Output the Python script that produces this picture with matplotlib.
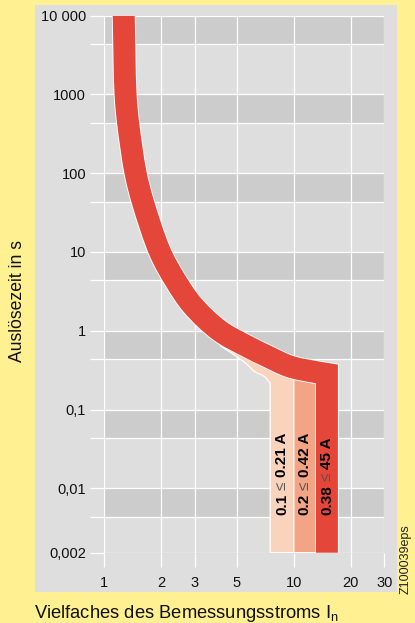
import numpy as np
import matplotlib
matplotlib.use("Agg")
import matplotlib.pyplot as plt
from matplotlib.path import Path
from matplotlib.patches import PathPatch, Rectangle
import matplotlib.transforms as mtransforms

plt.rcParams['font.family'] = ['Liberation Sans', 'DejaVu Sans']

# ---- data -------------------------------------------------------------
# centre line of the tripping band: multiple of rated current / seconds
curve_x = [1.266, 1.295, 1.336, 1.463, 1.598, 1.968, 2.366, 2.915, 4.06, 5.62, 7.18, 9.52, 12.94, 14.94]
curve_t = [10000, 1000, 434, 100, 43.2, 10, 4.4, 2.12, 1.0, 0.641, 0.479, 0.352, 0.30, 0.283]

# lower branch of the 0.1 ... 0.21 A range
peach_x = [4.1, 5.0, 5.62, 6.22, 7.0, 7.5]
peach_t = [0.64, 0.47, 0.38, 0.303, 0.262, 0.215]

# top-left corner of the 0.2 ... 0.42 A column
salmon_corner = (10.0, 0.249)

# left edges of the three instantaneous columns and lowest time
band_left = [7.5, 10.0, 13.0]
right_limit = 17.16
t_min = 0.002

band_labels = [("0.1", "0.21 A"), ("0.2", "0.42 A"), ("0.38", "45 A")]

x_ticks = [1, 2, 3, 5, 10, 20, 30]
x_ticklabels = ["1", "2", "3", "5", "10", "20", "30"]
y_ticks = [0.002, 0.01, 0.1, 1, 10, 100, 1000, 10000]
y_ticklabels = ["0,002", "0,01", "0,1", "1", "10", "100", "1000", "10 000"]

# ---- colours ----------------------------------------------------------
YELLOW = "#FFF091"
PANEL = "#DEDEDE"
BAND = "#CCCCCC"
RED = "#E4473A"
SALMON = "#F3A484"
PEACH = "#FAD3BC"

# ---- time axis: logarithmic, last step below 0.01 s stretched ----------
K = 1.17


def fwd(t):
    l = np.log10(np.maximum(np.asarray(t, dtype=float), 1e-300))
    return np.where(l >= -2, l, -2 + (l + 2) * K)


def inv(f):
    f = np.asarray(f, dtype=float)
    return np.where(f >= -2, 10.0 ** f, 10.0 ** (-2 + (f + 2) / K))


fig = plt.figure(figsize=(4.15, 6.23), dpi=100, facecolor=YELLOW)
fig.patches.append(Rectangle((35 / 415, 1 - 592 / 623), 362 / 415, 587 / 623,
                             transform=fig.transFigure, facecolor=PANEL,
                             edgecolor="none", zorder=-5))

ax = fig.add_axes([104.3 / 415, 1 - 552.7 / 623, 280 / 415, 537 / 623])
ax.set_zorder(2)
ax.set_facecolor(PANEL)
ax.set_xscale("log")
ax.set_yscale("function", functions=(fwd, inv))
ax.set_xlim(1, 30)
ax.set_ylim(t_min, 10000)
for s in ax.spines.values():
    s.set_visible(False)

# shaded stripes below each decade line
decades = [10000, 1000, 100, 10, 1, 0.1, 0.01]
minor = [float(inv(fwd(d) - 0.36)) for d in decades]
for d, m in zip(decades, minor):
    ax.axhspan(m, d, color=BAND, lw=0, zorder=0.2)

ax.set_xticks(x_ticks)
ax.set_xticklabels(x_ticklabels)
ax.xaxis.set_minor_locator(matplotlib.ticker.NullLocator())
ax.set_yticks(y_ticks)
ax.set_yticklabels(y_ticklabels)
ax.set_yticks(minor, minor=True)
ax.tick_params(axis="both", which="both", length=10, width=0.9, color="white",
               labelsize=10.5, labelcolor="#111111")
ax.tick_params(axis="y", pad=3)
ax.tick_params(axis="x", pad=6.5)
ax.grid(True, which="both", color="white", lw=0.9, zorder=0.5)
ax.set_axisbelow(True)

# ---- smooth curve through read points (centripetal Catmull-Rom) --------
SX, SY = 187.7, 78.77   # pixels per decade on x and y


def to_px(xs, ts):
    return np.column_stack([np.log10(xs) * SX, np.log10(ts) * SY])


def from_px(P):
    P = np.asarray(P)
    return list(zip(10 ** (P[:, 0] / SX), 10 ** (P[:, 1] / SY)))


def smooth_verts(xs, ts, alpha=0.5):
    P = to_px(xs, ts)
    Q = np.vstack([2 * P[0] - P[1], P, 2 * P[-1] - P[-2]])
    out = [P[0]]
    for i in range(len(P) - 1):
        p0, p1, p2, p3 = Q[i], Q[i + 1], Q[i + 2], Q[i + 3]
        a1 = np.hypot(*(p1 - p0)) ** alpha
        a2 = np.hypot(*(p2 - p1)) ** alpha
        a3 = np.hypot(*(p3 - p2)) ** alpha
        c1 = (a1 ** 2 * p2 - a2 ** 2 * p0 + (2 * a1 ** 2 + 3 * a1 * a2 + a2 ** 2) * p1) / (3 * a1 * (a1 + a2))
        c2 = (a3 ** 2 * p1 - a2 ** 2 * p3 + (2 * a3 ** 2 + 3 * a3 * a2 + a2 ** 2) * p2) / (3 * a3 * (a3 + a2))
        out += [c1, c2, p2]
    return from_px(out)


# ---- 0.1 ... 0.21 A column (under the main band) -----------------------
br = smooth_verts(peach_x, peach_t)
verts = list(br) + [(band_left[0], t_min), (curve_x[-2], t_min)]
codes = [Path.MOVETO] + [Path.CURVE4] * (len(br) - 1) + [Path.LINETO] * 2
back = [(x, t) for x, t in zip(curve_x[:-1], curve_t[:-1]) if x > peach_x[0] - 0.1][::-1]
verts += back + [br[0]]
codes += [Path.LINETO] * len(back) + [Path.CLOSEPOLY]
ax.add_patch(PathPatch(Path(verts, codes), facecolor=PEACH, edgecolor="white",
                       lw=0.9, zorder=2))

# ---- 0.2 ... 0.42 A column ---------------------------------------------
verts = [(band_left[1], t_min), salmon_corner, (curve_x[-2], curve_t[-2]),
         (curve_x[-1], curve_t[-1]), (curve_x[-1], t_min), (band_left[1], t_min)]
codes = [Path.MOVETO] + [Path.LINETO] * 4 + [Path.CLOSEPOLY]
ax.add_patch(PathPatch(Path(verts, codes), facecolor=SALMON, edgecolor="white",
                       lw=0.9, zorder=3))

# ---- main band 0.38 ... 45 A: thick stroke along the centre line -------
cv = smooth_verts(curve_x, curve_t)
verts = list(cv) + [(curve_x[-1], t_min)]
codes = [Path.MOVETO] + [Path.CURVE4] * (len(cv) - 1) + [Path.LINETO]
band_path = Path(verts, codes)
w_px = 22.0
ax.add_patch(PathPatch(band_path, fill=False, edgecolor="white", lw=(w_px + 1.8) * 0.72,
                       joinstyle="miter", capstyle="butt", zorder=4))
ax.add_patch(PathPatch(band_path, fill=False, edgecolor=RED, lw=w_px * 0.72,
                       joinstyle="miter", capstyle="butt", zorder=5))

# ---- vertical range labels inside the columns --------------------------
fig.canvas.draw()
renderer = fig.canvas.get_renderer()
trans = mtransforms.blended_transform_factory(ax.transData, ax.transAxes)
edges = band_left + [right_limit]
for i, (lo, hi) in enumerate(band_labels):
    xc = np.sqrt(edges[i] * edges[i + 1])
    y = 0.070
    for s, w, c in [(lo, "bold", "black"), ("\u2264", "normal", "#555555"), (hi, "bold", "black")]:
        t = ax.text(xc, y, s, transform=trans, rotation=90, ha="center", va="bottom",
                    fontsize=11, fontweight=w, color=c, zorder=6)
        bb = t.get_window_extent(renderer)
        y = ax.transAxes.inverted().transform((0, bb.y1 + 4))[1]

# ---- axis titles -------------------------------------------------------
fig.text(18 / 415, 1 - 301 / 623, "Auslösezeit in s", rotation=90,
         ha="center", va="center", fontsize=12.7, color="#111111")
fig.text(34 / 415, 1 - 613 / 623, r"Vielfaches des Bemessungsstroms I$\mathregular{_n}$",
         ha="left", va="center", fontsize=13.2, color="#111111")
fig.text(406 / 415, 1 - 559 / 623, "Z100039eps", rotation=90,
         ha="center", va="center", fontsize=9, color="#222222")

fig.savefig("out.png", dpi=100, facecolor=YELLOW)
